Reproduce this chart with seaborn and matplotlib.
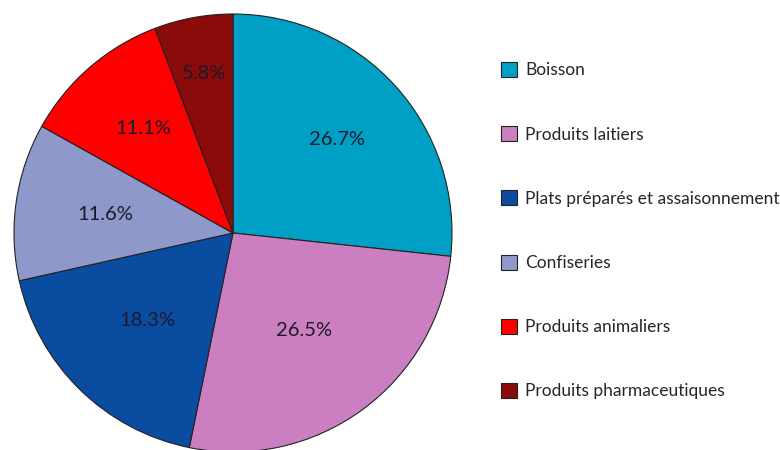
import numpy as np
import pandas as pd
import seaborn as sns
import matplotlib.pyplot as plt

# data
categories = ['Boisson', 'Produits laitiers', 'Plats préparés et assaisonnement',
              'Confiseries', 'Produits animaliers', 'Produits pharmaceutiques']
shares = [26.7, 26.5, 18.3, 11.6, 11.1, 5.8]
colors = ['#00A0C6', '#CC7FC0', '#0A4C9F', '#8E98CA', '#FF0000', '#8B0A0A']

# where each percent label sits (fraction of radius)
label_r = [0.64, 0.55, 0.56, 0.59, 0.63, 0.74]

df = pd.DataFrame({'category': categories, 'share': shares})

sns.set_theme(style='white')
plt.rcParams['font.family'] = ['Lato', 'DejaVu Sans']

fig = plt.figure(figsize=(7.8, 4.5), dpi=100)
ax = fig.add_axes([14/780, -2/450, 438/780, 438/450])

palette = sns.color_palette(colors)
wedges, texts, autotexts = ax.pie(df['share'], colors=palette, startangle=90, counterclock=False,
                                  autopct='%.1f%%', pctdistance=0.62,
                                  wedgeprops=dict(edgecolor='#222222', linewidth=0.8),
                                  textprops=dict(fontsize=14.5, color='#1a1a2a'))
# move labels a bit, like the original
for w, t, r in zip(wedges, autotexts, label_r):
    ang = np.deg2rad((w.theta1 + w.theta2) / 2)
    t.set_position((r * np.cos(ang), r * np.sin(ang)))

ax.set_xlim(-1, 1)
ax.set_ylim(-1, 1)
ax.set_aspect('equal')

fig.legend(wedges, df['category'], loc='upper left', bbox_to_anchor=(494/780, 1 - 55/450),
           frameon=False, fontsize=12.5, handlelength=0.95, handleheight=0.95,
           handletextpad=0.45, labelspacing=2.75, borderaxespad=0)

fig.savefig('out.png', dpi=100)
